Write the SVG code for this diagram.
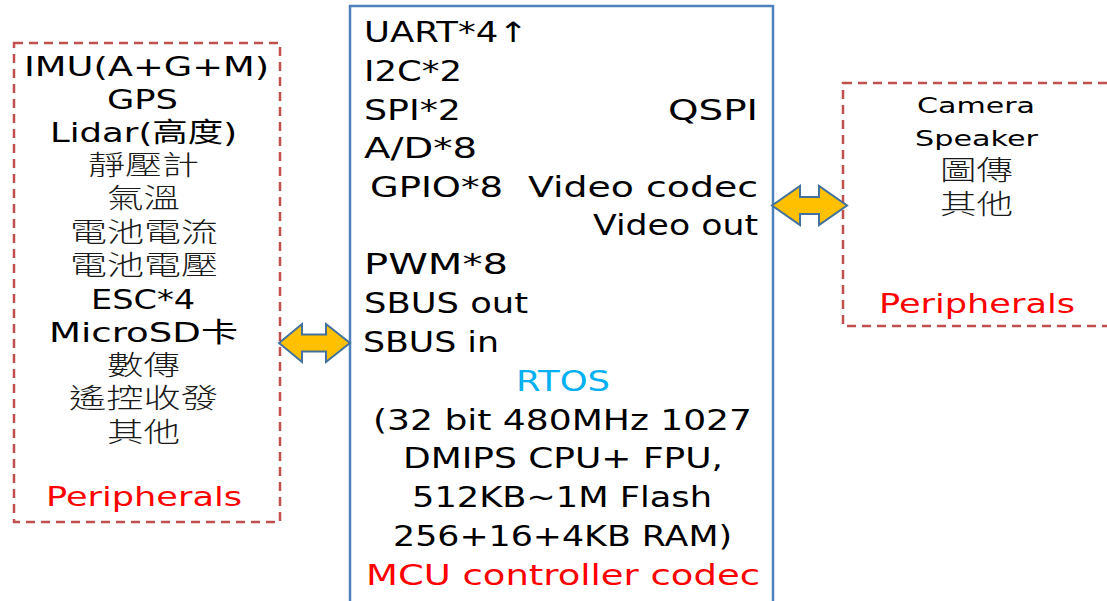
<svg xmlns="http://www.w3.org/2000/svg" width="1107" height="601" viewBox="0 0 1107 601">
<style>
.t{font-family:"DejaVu Sans","Noto Sans CJK TC",sans-serif;fill:#000;}
.m{font-size:28px;}
.l{font-size:27px;}
.s{font-size:22px;}
.c{font-size:27px;}
.k{font-weight:300;fill:#1a1a1a;}
.red{fill:#FF0000;}
.blue{fill:#00B0F0;}
.dash{fill:#fff;stroke:#C0504D;stroke-width:2.5;stroke-dasharray:9 6;}
.main{fill:#fff;stroke:#4F81BD;stroke-width:2.5;}
.arr{fill:#FFC000;stroke:#41719C;stroke-width:2;stroke-linejoin:miter;}
</style>
<rect width="1107" height="601" fill="#fff"/>
<g id="left-peripherals">
<rect class="dash" x="14" y="43" width="266" height="479"/>
<text class="t l" x="24" y="76" textLength="245" lengthAdjust="spacingAndGlyphs">IMU(A+G+M)</text>
<text class="t l" x="107" y="109" textLength="71" lengthAdjust="spacingAndGlyphs">GPS</text>
<text class="t l" x="50" y="142" textLength="187" lengthAdjust="spacingAndGlyphs">Lidar(高度)</text>
<text class="t l k" x="88" y="175" textLength="111" lengthAdjust="spacingAndGlyphs">靜壓計</text>
<text class="t l k" x="107" y="208" textLength="73" lengthAdjust="spacingAndGlyphs">氣溫</text>
<text class="t l k" x="70" y="242" textLength="148" lengthAdjust="spacingAndGlyphs">電池電流</text>
<text class="t l k" x="70" y="275" textLength="148" lengthAdjust="spacingAndGlyphs">電池電壓</text>
<text class="t l" x="91" y="309" textLength="104" lengthAdjust="spacingAndGlyphs">ESC*4</text>
<text class="t l" x="49" y="342" textLength="189" lengthAdjust="spacingAndGlyphs">MicroSD卡</text>
<text class="t l k" x="107" y="375" textLength="73" lengthAdjust="spacingAndGlyphs">數傳</text>
<text class="t l k" x="69" y="408" textLength="149" lengthAdjust="spacingAndGlyphs">遙控收發</text>
<text class="t l k" x="107" y="442" textLength="73" lengthAdjust="spacingAndGlyphs">其他</text>
<text class="t l red" x="46" y="506" textLength="196" lengthAdjust="spacingAndGlyphs">Peripherals</text>
</g>
<g id="mcu">
<rect class="main" x="350" y="6" width="423" height="620"/>
<text class="t m" x="364" y="42" textLength="164" lengthAdjust="spacingAndGlyphs">UART*4↑</text>
<text class="t m" x="364" y="81" textLength="98" lengthAdjust="spacingAndGlyphs">I2C*2</text>
<text class="t m" x="364" y="120" textLength="97" lengthAdjust="spacingAndGlyphs">SPI*2</text>
<text class="t m" x="668" y="120" textLength="90" lengthAdjust="spacingAndGlyphs">QSPI</text>
<text class="t m" x="364" y="158" textLength="113" lengthAdjust="spacingAndGlyphs">A/D*8</text>
<text class="t m" x="370" y="197" textLength="133" lengthAdjust="spacingAndGlyphs">GPIO*8</text>
<text class="t m" x="528" y="197" textLength="230" lengthAdjust="spacingAndGlyphs">Video codec</text>
<text class="t m" x="593" y="235" textLength="165" lengthAdjust="spacingAndGlyphs">Video out</text>
<text class="t m" x="364" y="274" textLength="144" lengthAdjust="spacingAndGlyphs">PWM*8</text>
<text class="t m" x="364" y="313" textLength="164" lengthAdjust="spacingAndGlyphs">SBUS out</text>
<text class="t m" x="363" y="352" textLength="136" lengthAdjust="spacingAndGlyphs">SBUS in</text>
<text class="t m blue" x="516" y="391" textLength="94" lengthAdjust="spacingAndGlyphs">RTOS</text>
<text class="t m" x="373" y="430" textLength="379" lengthAdjust="spacingAndGlyphs">(32 bit 480MHz 1027</text>
<text class="t m" x="403" y="468" textLength="320" lengthAdjust="spacingAndGlyphs">DMIPS CPU+ FPU,</text>
<text class="t m" x="412" y="507" textLength="300" lengthAdjust="spacingAndGlyphs">512KB~1M Flash</text>
<text class="t m" x="393" y="546" textLength="339" lengthAdjust="spacingAndGlyphs">256+16+4KB RAM)</text>
<text class="t m red" x="366" y="585" textLength="394" lengthAdjust="spacingAndGlyphs">MCU controller codec</text>
</g>
<g id="right-peripherals">
<rect class="dash" x="843" y="83" width="290" height="243"/>
<text class="t s" x="917" y="113" textLength="118" lengthAdjust="spacingAndGlyphs">Camera</text>
<text class="t s" x="915" y="146" textLength="123" lengthAdjust="spacingAndGlyphs">Speaker</text>
<text class="t c k" x="940" y="180" textLength="73" lengthAdjust="spacingAndGlyphs">圖傳</text>
<text class="t c k" x="940" y="214" textLength="73" lengthAdjust="spacingAndGlyphs">其他</text>
<text class="t l red" x="879" y="313" textLength="196" lengthAdjust="spacingAndGlyphs">Peripherals</text>
</g>
<g id="connectors">
<path class="arr" d="M279,343 L302,324 L302,334.5 L326,334.5 L326,324 L350,343 L326,362 L326,351.5 L302,351.5 L302,362 Z"/>
<path class="arr" d="M772,205.5 L800,186 L800,197 L819,197 L819,186 L847,205.5 L819,225 L819,214 L800,214 L800,225 Z"/>
</g>
</svg>
